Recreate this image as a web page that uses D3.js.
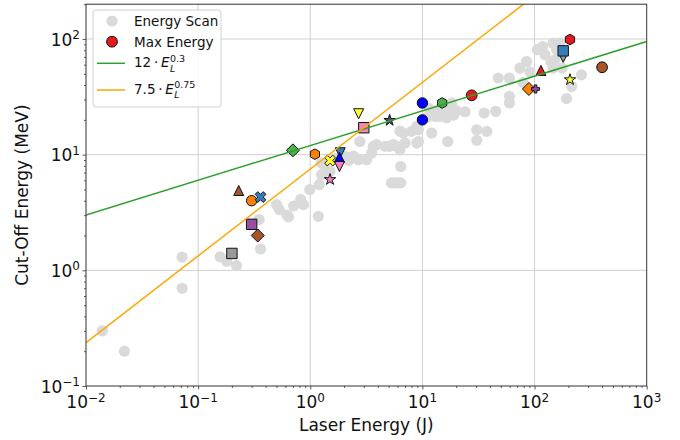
<!DOCTYPE html>
<html>
<head>
<meta charset="utf-8">
<script src="https://cdn.jsdelivr.net/npm/d3@7"></script>
<style>
  html, body { margin: 0; padding: 0; background: #fff; }
  svg { display: block; font-family: "DejaVu Sans", sans-serif; }
</style>
</head>
<body>
<svg id="chart" width="680" height="440"></svg>
<script>
// Energy scan: laser energy (J) vs. proton cut-off energy (MeV)
const scanLaser = [
  0.014, 0.022, 0.072, 0.072, 0.157, 0.18, 0.22, 0.36, 0.35, 0.50,
  0.53, 0.64, 0.71, 0.82, 0.87, 0.99, 1.18, 1.2, 1.26, 1.31,
  1.5, 1.25, 1.7, 2.04, 2.42, 2.68, 3.18, 2.77, 3.52, 3.65,
  3.91, 4.64, 5.1, 5.5, 5.9, 6.3, 6.4, 6.75, 6.3, 5.3,
  5.7, 6.0, 6.4, 7.0, 8.0, 8.9, 8.9, 9.2, 9.2, 12.1,
  13.2, 13.2, 15.5, 16.4, 17.6, 18.2, 16.8, 14.0, 16.0, 24.0,
  30.5, 30.5, 35.5, 37.5, 45.0, 47.5, 59.7, 59.7, 59.7, 74,
  79, 85, 91, 106, 118, 124, 140, 146, 152, 146,
  168, 157, 176, 193, 214, 262, 11.0, 11.5, 20.0, 13.5,
  14.5, 17.0, 19.0, 2.2, 0.62
];
const scanCutoff = [
  0.30, 0.20, 1.30, 0.70, 1.31, 1.20, 1.10, 1.53, 2.75, 3.7,
  3.35, 2.9, 3.6, 4.1, 3.7, 5.0, 2.93, 5.5, 6.7, 8.2,
  7.2, 8.5, 9.3, 9.7, 9.7, 9.05, 9.05, 13.0, 10.3, 11.8,
  12.2, 11.8, 11.8, 12.2, 11.8, 11.0, 7.9, 15.4, 16.0, 5.7,
  5.7, 5.7, 5.7, 12.6, 15.9, 17.5, 12.6, 13.0, 16.4, 15.4,
  21.4, 22.9, 25.3, 20.8, 22.9, 28, 13.0, 24.5, 26.5, 23.5,
  16.4, 13.3, 22.9, 15.9, 23.7, 46, 46, 32, 28, 56,
  42, 64, 52, 81, 86, 73, 64, 92, 66, 56,
  92, 81, 56, 30.5, 39, 49, 21, 25, 24, 24,
  21.5, 25.5, 22, 8.9, 3.0
];

// Maximum cut-off energy per campaign
const maxLaser  = [0.20, 0.30, 0.34, 0.23, 0.30, 0.36, 0.70, 1.10, 1.50, 1.50,
                   1.85, 1.82, 1.82, 2.70, 3.00, 5.10, 10.0, 10.0, 15.0, 27.5,
                   89, 102, 114, 180, 180, 207, 207, 400];
const maxCutoff = [1.40, 2.50, 2.00, 4.90, 4.00, 4.30, 10.9, 10.1, 8.9, 6.1,
                   10.4, 9.5, 7.9, 22.6, 17.1, 19.8, 28.0, 20.0, 28.0, 32.6,
                   37.0, 37.0, 53.5, 68, 79, 99, 44.5, 57];
const maxShape  = ['s', 's', 'D', '^', 'o', 'X', 'D', 'h', 'X', '*',
                   'v', '^', 'v', 'v', 's', '*', 'o', 'o', 'h', 'o',
                   'D', 'P', '^', 'v', 's', 'h', '*', 'o'];
const maxColor  = ['#999999', '#984ea3', '#a65628', '#a65628', '#ff7f00', '#377eb8', '#4daf4a', '#ff7f00', '#ffff33', '#f781bf',
                   '#377eb8', '#0000ff', '#f781bf', '#ffff33', '#f781bf', '#5e4a78', '#0000ff', '#0000ff', '#4daf4a', '#e41a1c',
                   '#ff7f00', '#984ea3', '#e41a1c', '#999999', '#377eb8', '#e41a1c', '#ffff33', '#a65628'];
const maxSize   = [5.2, 5.2, 6.5, 5, 5.2, 5, 6.5, 5.3, 5, 6,
                   5, 5, 5, 5, 5.2, 6, 5.2, 5.2, 5.3, 5.4,
                   6.5, 3.5, 5, 4, 5.2, 5.3, 6, 5.4];

// Scaling laws  E_cut = a * E_L^b
const fitCoef  = [12, 7.5];
const fitExp   = [0.3, 0.75];
const fitColor = ['#2ca02c', '#ffa500'];
const fitCoefText = ['12', '7.5'];
const fitExpText  = ['0.3', '0.75'];

const xMajor = [0.01, 0.1, 1, 10, 100, 1000];
const xMajorExp = ['\u22122', '\u22121', '0', '1', '2', '3'];
const yMajor = [0.1, 1, 10, 100];
const yMajorExp = ['\u22121', '0', '1', '2'];

const svg = d3.select('#chart');
const L = 86, R = 646.7, T = 4.2, B = 386;
const x = d3.scaleLog().domain([0.01, 1000]).range([L, R]);
const y = d3.scaleLog().domain([0.1, 200]).range([B, T]);

svg.append('defs').append('clipPath').attr('id', 'plot-clip')
  .append('rect').attr('x', L).attr('y', T).attr('width', R - L).attr('height', B - T);

// grid
const grid = svg.append('g').attr('stroke', '#d0d0d0').attr('stroke-width', 1);
xMajor.slice(1, -1).forEach(v => grid.append('line')
  .attr('x1', x(v)).attr('x2', x(v)).attr('y1', T).attr('y2', B));
yMajor.slice(1).forEach(v => grid.append('line')
  .attr('x1', L).attr('x2', R).attr('y1', y(v)).attr('y2', y(v)));

const plot = svg.append('g').attr('clip-path', 'url(#plot-clip)');

// energy scan points
plot.append('g').selectAll('circle')
  .data(scanLaser.map((e, i) => [e, scanCutoff[i]]))
  .join('circle')
  .attr('cx', d => x(d[0])).attr('cy', d => y(d[1])).attr('r', 5.6)
  .attr('fill', '#dadada');

function markerPath(shape, r) {
  const pts = [];
  switch (shape) {
    case 'o': return d3.symbol(d3.symbolCircle, Math.PI * r * r)();
    case 's': return `M${-r},${-r}H${r}V${r}H${-r}Z`;
    case 'D': return `M0,${-r}L${r},0L0,${r}L${-r},0Z`;
    case '^': return `M0,${-r}L${r},${r}L${-r},${r}Z`;
    case 'v': return `M0,${r}L${r},${-r}L${-r},${-r}Z`;
    case 'h':
      for (let k = 0; k < 6; k++) {
        const a = -Math.PI / 2 + k * Math.PI / 3;
        pts.push([r * Math.cos(a), r * Math.sin(a)]);
      }
      return 'M' + pts.map(p => p.join(',')).join('L') + 'Z';
    case '*':
      for (let k = 0; k < 10; k++) {
        const a = -Math.PI / 2 + k * Math.PI / 5;
        const rr = k % 2 ? r * 0.382 : r;
        pts.push([rr * Math.cos(a), rr * Math.sin(a)]);
      }
      return 'M' + pts.map(p => p.join(',')).join('L') + 'Z';
    case 'P':
    case 'X': {
      const w = r / 3;
      const base = [[-r, -w], [-w, -w], [-w, -r], [w, -r], [w, -w], [r, -w],
                    [r, w], [w, w], [w, r], [-w, r], [-w, w], [-r, w]];
      const ang = shape === 'X' ? Math.PI / 4 : 0;
      const s = 1.15;
      base.forEach(([px, py]) => pts.push([
        s * (px * Math.cos(ang) - py * Math.sin(ang)),
        s * (px * Math.sin(ang) + py * Math.cos(ang))]));
      return 'M' + pts.map(p => p.join(',')).join('L') + 'Z';
    }
  }
}

// campaign maxima
plot.append('g').selectAll('path')
  .data(maxLaser.map((e, i) => i))
  .join('path')
  .attr('transform', i => `translate(${x(maxLaser[i])},${y(maxCutoff[i])})`)
  .attr('d', i => markerPath(maxShape[i], maxSize[i]))
  .attr('fill', i => maxColor[i])
  .attr('stroke', '#111').attr('stroke-width', 1);

// scaling-law lines
const ends = x.domain();
plot.append('g').selectAll('line')
  .data(fitCoef.map((a, i) => i))
  .join('line')
  .attr('x1', x(ends[0])).attr('x2', x(ends[1]))
  .attr('y1', i => y(fitCoef[i] * Math.pow(ends[0], fitExp[i])))
  .attr('y2', i => y(fitCoef[i] * Math.pow(ends[1], fitExp[i])))
  .attr('stroke', i => fitColor[i]).attr('stroke-width', 1.5);

// axes ticks
const minorX = [];
for (let d = -2; d < 3; d++) for (let m = 2; m <= 9; m++) minorX.push(m * Math.pow(10, d));
const minorY = [];
for (let d = -1; d < 3; d++) for (let m = 2; m <= 9; m++) { const v = m * Math.pow(10, d); if (v <= 200) minorY.push(v); }

function styleAxis(g) {
  g.select('.domain').remove();
  g.selectAll('line').attr('stroke', '#333').attr('stroke-width', 0.8);
}
svg.append('g').attr('transform', `translate(0,${B})`)
  .call(d3.axisBottom(x).tickValues(xMajor).tickSize(3.5).tickFormat('')).call(styleAxis);
svg.append('g').attr('transform', `translate(0,${B})`)
  .call(d3.axisBottom(x).tickValues(minorX).tickSize(2).tickFormat('')).call(styleAxis);
svg.append('g').attr('transform', `translate(${L},0)`)
  .call(d3.axisLeft(y).tickValues(yMajor).tickSize(3.5).tickFormat('')).call(styleAxis);
svg.append('g').attr('transform', `translate(${L},0)`)
  .call(d3.axisLeft(y).tickValues(minorY).tickSize(2).tickFormat('')).call(styleAxis);

// frame
svg.append('rect').attr('x', L).attr('y', T).attr('width', R - L).attr('height', B - T)
  .attr('fill', 'none').attr('stroke', '#333').attr('stroke-width', 1);

// tick labels
xMajor.forEach((v, i) => {
  const t = svg.append('text').attr('x', x(v)).attr('y', 408)
    .attr('text-anchor', 'middle').attr('font-size', 17).attr('fill', '#111');
  t.append('tspan').text('10');
  t.append('tspan').attr('dy', -6.5).attr('font-size', 12).text(xMajorExp[i]);
});
yMajor.forEach((v, i) => {
  const t = svg.append('text').attr('x', 80).attr('y', y(v) + 6.5)
    .attr('text-anchor', 'end').attr('font-size', 17).attr('fill', '#111');
  t.append('tspan').text('10');
  t.append('tspan').attr('dy', -6.5).attr('font-size', 12).text(yMajorExp[i]);
});

// axis titles
svg.append('text').attr('x', (L + R) / 2).attr('y', 431).attr('text-anchor', 'middle')
  .attr('font-size', 17).attr('fill', '#111').text('Laser Energy (J)');
svg.append('text').attr('transform', `translate(28,${(T + B) / 2}) rotate(-90)`)
  .attr('text-anchor', 'middle').attr('font-size', 17).attr('fill', '#111')
  .text('Cut-Off Energy (MeV)');

// legend
const lg = svg.append('g');
lg.append('rect').attr('x', 93).attr('y', 10).attr('width', 128).attr('height', 97).attr('rx', 3)
  .attr('fill', 'rgba(255,255,255,0.85)').attr('stroke', '#d0d0d0').attr('stroke-width', 1);
lg.append('circle').attr('cx', 112).attr('cy', 21).attr('r', 5.6).attr('fill', '#dadada');
lg.append('path').attr('transform', 'translate(112,41.7)').attr('d', markerPath('o', 5.4))
  .attr('fill', '#e41a1c').attr('stroke', '#111').attr('stroke-width', 1);
const lgText = (yy, s) => lg.append('text').attr('x', 134).attr('y', yy)
  .attr('font-size', 13.5).attr('fill', '#111').text(s);
lgText(26.3, 'Energy Scan');
lgText(46.5, 'Max Energy');

[66.7, 93.6].forEach((base, i) => {
  const ly = base - 3.4 - (i ? 0.2 : 0);
  lg.append('line').attr('x1', 97).attr('x2', 125).attr('y1', ly).attr('y2', ly)
    .attr('stroke', fitColor[i]).attr('stroke-width', 1.5);
  const t = lg.append('text').attr('x', 134).attr('y', base).attr('font-size', 13.5).attr('fill', '#111');
  t.append('tspan').text(fitCoefText[i]);
  t.append('tspan').text('\u2009\u00b7\u2009');
  t.append('tspan').attr('font-style', 'italic').text('E');
  const w = t.node().getComputedTextLength();
  lg.append('text').attr('x', 134 + w + 0.5).attr('y', base + 4.8)
    .attr('font-size', 9.5).attr('font-style', 'italic').attr('fill', '#111').text('L');
  lg.append('text').attr('x', 134 + w + 0.5).attr('y', base - 5.2)
    .attr('font-size', 9.5).attr('fill', '#111').text(fitExpText[i]);
});
</script>
</body>
</html>
